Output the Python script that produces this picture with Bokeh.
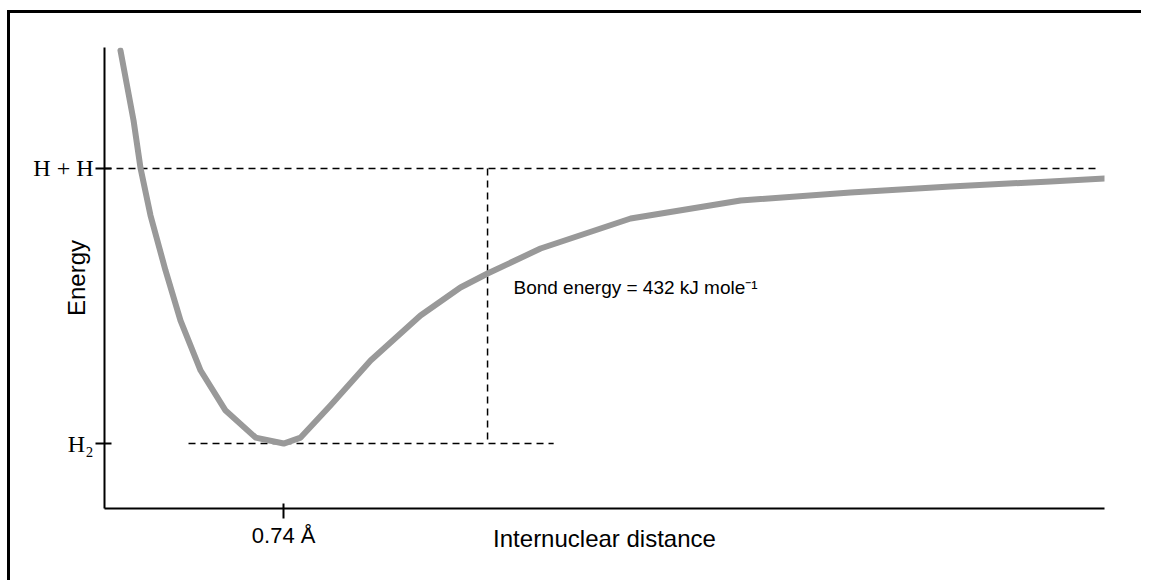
from bokeh.plotting import figure
from bokeh.models import Range1d, FixedTicker, Label, ColumnDataSource
from bokeh.embed import file_html
from bokeh.resources import INLINE

# ---- data (distance in Å, energy in kJ/mol relative to H + H) ----
bond_length = 0.74
bond_energy = 432
well_energy = -bond_energy
dissoc_energy = 0

curve_r = [0.066, 0.120, 0.149, 0.190, 0.252, 0.314, 0.397, 0.500, 0.624, 0.74,
           0.810, 0.933, 1.099, 1.305, 1.470, 1.582, 1.801, 2.173, 2.627, 3.081,
           3.494, 3.907, 4.13]
curve_e = [185.4, 75.4, 0.0, -73.8, -160.2, -238.8, -317.3, -380.2, -422.6, -432.0,
           -422.6, -372.3, -301.6, -230.9, -186.9, -165.0, -125.7, -78.6, -50.3, -37.7,
           -28.3, -20.4, -15.7]

guide_x0 = [0.0, 0.347, 1.582]
guide_x1 = [4.113, 1.855, 1.582]
guide_y0 = [dissoc_energy, well_energy, dissoc_energy]
guide_y1 = [dissoc_energy, well_energy, well_energy]

x_ticks = [bond_length]
x_tick_labels = {bond_length: "0.74 Å"}
y_ticks = [well_energy, dissoc_energy]
y_tick_labels = {well_energy: "H₂", dissoc_energy: "H + H"}

p = figure(width=1134, height=570, output_backend="svg", toolbar_location=None,
           x_range=Range1d(0, 4.13), y_range=Range1d(-534, 190),
           min_border_left=94, min_border_right=40, min_border_top=34,
           min_border_bottom=75)
p.styles = {"margin-left": "7px", "margin-top": "10px",
            "border-left": "3px solid black", "border-top": "3px solid black",
            "border-right": "0px none", "border-bottom": "0px none",
            "outline": "none", "box-shadow": "none"}
p.outline_line_color = None
p.border_fill_alpha = 1
p.xgrid.visible = False
p.ygrid.visible = False
p.background_fill_color = "white"
p.border_fill_color = "white"

# axes
for ax in (p.xaxis[0], p.yaxis[0]):
    ax.axis_line_width = 2
    ax.axis_line_color = "black"
    ax.major_tick_line_width = 2
    ax.major_tick_line_color = "black"
    ax.minor_tick_line_color = None
    ax.major_label_text_color = "black"
    ax.axis_label_text_font = "Liberation Sans"
    ax.axis_label_text_font_style = "normal"
    ax.axis_label_text_color = "black"

p.xaxis.ticker = FixedTicker(ticks=x_ticks)
p.xaxis.major_label_overrides = x_tick_labels
p.xaxis.major_tick_in = 5
p.xaxis.major_tick_out = 10
p.xaxis.major_label_standoff = 4
p.xaxis.major_label_text_font = "Liberation Sans"
p.xaxis.major_label_text_font_size = "22px"
p.xaxis.axis_label = "Internuclear distance"
p.xaxis.axis_label_text_font_size = "24px"
p.xaxis.axis_label_standoff = -26

p.yaxis.ticker = FixedTicker(ticks=y_ticks)
p.yaxis.major_label_overrides = y_tick_labels
p.yaxis.major_tick_in = 7
p.yaxis.major_tick_out = 9
p.yaxis.major_label_standoff = 2
p.yaxis.major_label_text_font = "Liberation Serif"
p.yaxis.major_label_text_font_size = "24px"
p.yaxis.axis_label = "Energy"
p.yaxis.axis_label_text_font_size = "24px"
p.yaxis.axis_label_standoff = -60

# guide lines
src = ColumnDataSource(dict(x0=guide_x0, x1=guide_x1, y0=guide_y0, y1=guide_y1))
p.segment("x0", "y0", "x1", "y1", source=src, line_color="black",
          line_width=1.5, line_dash="7 5")

# potential curve
p.line(curve_r, curve_e, line_color="#999999", line_width=6,
       line_join="round", line_cap="round")

# annotation
p.add_layout(Label(x=1.689, y=-187, text="Bond energy = 432 kJ mole⁻¹",
                   text_font="Liberation Sans", text_font_size="19px",
                   text_baseline="middle", text_align="left", text_color="black"))

open("out.html", "w").write(file_html(p, INLINE))
